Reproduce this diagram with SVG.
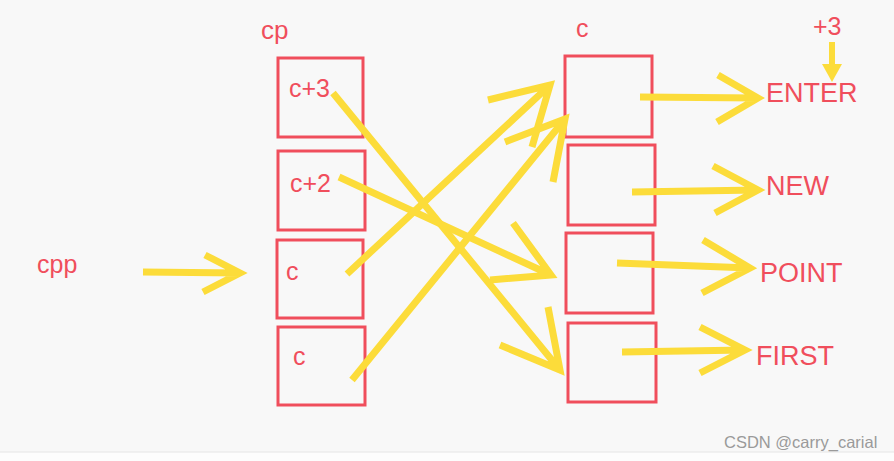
<svg xmlns="http://www.w3.org/2000/svg" width="894" height="461" viewBox="0 0 894 461">
<style>
.box{fill:none;stroke:#f04e5c;stroke-width:3}
.t{font-family:"Liberation Sans",Arial,sans-serif;fill:#f04e5c}
.y{fill:none;stroke:#fcdc3a;stroke-width:7;stroke-linecap:butt;stroke-linejoin:miter}
.wm{font-family:"Liberation Sans",Arial,sans-serif;fill:#9a9a9a;font-size:16.5px}
</style>
<rect x="0" y="0" width="894" height="461" fill="#f8f8f8"/>
<rect x="0" y="452" width="894" height="9" fill="#fdfdfd"/>
<line x1="0" y1="452" x2="894" y2="452" stroke="#e6e6e6" stroke-width="1"/>
<g id="labels">
<text class="t" x="261" y="39" font-size="26">cp</text>
<text class="t" x="576" y="37" font-size="25">c</text>
<text class="t" x="37" y="273" font-size="25">cpp</text>
<text class="t" x="813" y="35" font-size="25">+3</text>
</g>
<g id="cp-c3"><rect class="box" x="278" y="58" width="85" height="79"/><text class="t" x="289" y="97" font-size="25">c+3</text></g>
<g id="cp-c2"><rect class="box" x="278" y="151" width="87" height="79"/><text class="t" x="290" y="192" font-size="25">c+2</text></g>
<g id="cp-c1"><rect class="box" x="277" y="240" width="86" height="78"/><text class="t" x="286" y="280" font-size="25">c</text></g>
<g id="cp-c0"><rect class="box" x="278" y="327" width="87" height="78"/><text class="t" x="293" y="365" font-size="25">c</text></g>
<g id="c0"><rect class="box" x="565" y="56" width="87" height="81"/></g>
<g id="c1"><rect class="box" x="568" y="145" width="87" height="80"/></g>
<g id="c2"><rect class="box" x="566" y="233" width="87" height="80"/></g>
<g id="c3"><rect class="box" x="568" y="323" width="88" height="79"/></g>
<g id="ENTER"><text class="t" x="766" y="102" font-size="27">ENTER</text></g>
<g id="NEW"><text class="t" x="766" y="195" font-size="27">NEW</text></g>
<g id="POINT"><text class="t" x="760" y="282" font-size="27">POINT</text></g>
<g id="FIRST"><text class="t" x="756" y="365" font-size="27">FIRST</text></g>
<g id="connectors">
<path class="y" d="M143,272 L240,273 M205,255 L240,273 L203,292"/>
<path class="y" d="M333,93 L560,370 M548,307 L560,370 L500,345"/>
<path class="y" d="M339,177 L551,275 M513,223 L551,275 L490,280"/>
<path class="y" d="M347,274 L550,85 M488,100 L550,85 L532,147"/>
<path class="y" d="M352,380 L565,119 M505,142 L565,119 L553,182"/>
<path class="y" d="M640,97 L758,98 M718,75 L758,98 L717,122"/>
<path class="y" d="M632,192 L758,190 M713,166 L758,190 L715,213"/>
<path class="y" d="M617,263 L750,268 M703,240 L750,268 L702,293"/>
<path class="y" d="M622,352 L745,350 M700,327 L745,350 L700,373"/>
<line x1="832" y1="42" x2="832" y2="66" stroke="#fcdc3a" stroke-width="6"/>
<polygon points="822,64 842,64 832,82" fill="#fcdc3a"/>
</g>
<text class="wm" x="724" y="448">CSDN @carry_carial</text>
</svg>
